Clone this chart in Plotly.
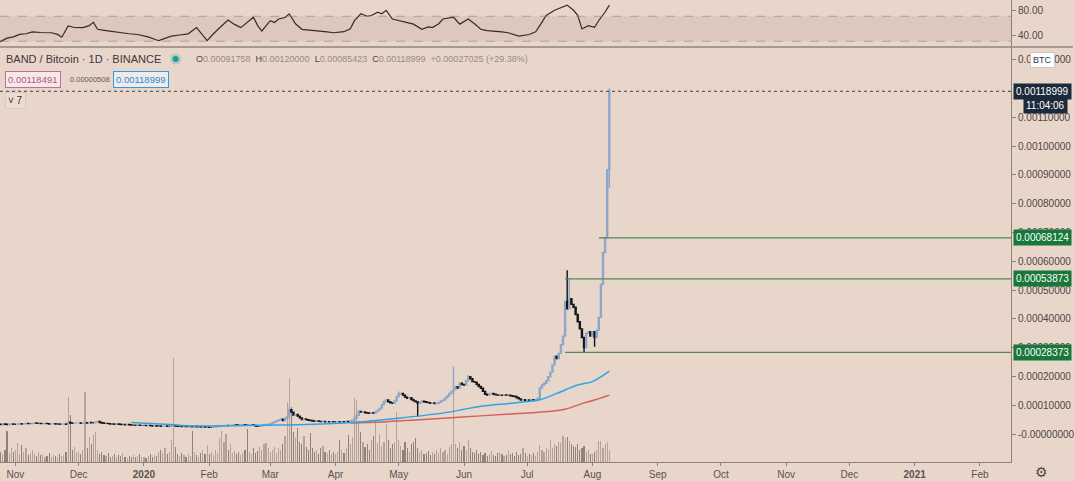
import pandas as pd
import plotly.graph_objects as go

# ---------------- data (prices in units of 0.00001 BTC) ----------------
START = "2019-10-24"
UNIT = 1e-5
first_open = 3.4

close_2019_10 = [3.4, 3.3, 3.5, 3.4, 3.3, 3.4, 3.5, 3.4]
close_2019_11 = [3.4, 3.5, 3.6, 3.5, 3.6, 3.7, 3.6, 3.6, 3.7, 3.8, 3.7, 3.7, 3.6, 3.6, 3.7,
                 3.6, 3.5, 3.6, 3.6, 3.5, 3.5, 3.4, 3.5, 3.5, 3.4, 4.1, 3.8, 3.7, 3.8, 3.8]
close_2019_12 = [3.8, 3.7, 3.8, 3.9, 3.8, 4.0, 3.9, 3.9, 4.2, 4.4, 4.0, 3.8, 3.7, 3.7, 3.6, 3.5,
                 3.5, 3.4, 3.5, 3.4, 3.3, 3.3, 3.2, 3.3, 3.2, 3.1, 3.1, 3.0, 3.1, 3.0, 3.0]
close_2020_01 = [3.0, 2.9, 3.0, 2.9, 2.8, 2.9, 2.8, 2.8, 2.7, 2.8, 2.8, 2.7, 2.7, 2.8, 3.0, 2.8,
                 2.7, 2.7, 2.6, 2.7, 2.6, 2.6, 2.6, 2.5, 2.6, 2.5, 2.5, 2.4, 2.5, 2.4, 2.4]
close_2020_02 = [2.3, 2.3, 2.4, 2.5, 2.6, 2.7, 2.8, 2.9, 3.0, 2.9, 3.0, 3.1, 3.2, 3.1, 3.0,
                 3.1, 3.2, 3.1, 3.0, 3.1, 3.2, 3.0, 2.8, 2.7, 2.8, 3.0, 3.2, 3.3, 3.4]
close_2020_03 = [3.6, 3.9, 4.3, 4.6, 4.9, 5.1, 4.7, 5.4, 6.0, 8.4, 7.6, 6.6, 6.8, 6.2, 5.6, 5.0,
                 5.2, 5.0, 4.8, 4.7, 4.5, 4.4, 4.5, 4.4, 4.3, 4.4, 4.2, 4.3, 4.2, 4.3, 4.2]
close_2020_04 = [4.2, 4.3, 4.2, 4.3, 4.2, 4.4, 4.3, 4.5, 4.8, 5.5, 6.5, 7.8, 7.6, 7.7, 7.4,
                 7.3, 7.2, 7.4, 7.3, 7.8, 8.3, 9.0, 10.2, 11.3, 11.8, 11.2, 10.8, 10.7, 11.5, 13.0]
close_2020_05 = [14.0, 14.1, 13.5, 12.8, 12.4, 12.6, 12.0, 11.5, 11.2, 10.7, 11.0, 11.4, 11.2, 11.0,
                 10.9, 10.7, 10.8, 10.6, 10.7, 11.0, 11.5, 11.8, 12.5, 13.2, 14.1, 14.8, 15.5, 16.4,
                 16.0, 17.6, 17.2]
close_2020_06 = [17.0, 18.5, 19.9, 19.2, 18.2, 18.0, 17.2, 16.5, 15.9, 14.8, 13.8, 13.5, 14.0, 14.1,
                 13.8, 13.6, 13.5, 13.5, 13.4, 13.6, 13.5, 13.5, 13.3, 13.1, 13.0, 12.6, 12.2, 11.8,
                 11.9, 11.7]
close_2020_07 = [11.8, 11.7, 11.9, 11.8, 12.0, 12.4, 16.0, 17.0, 17.6, 18.5, 19.9, 21.5, 24.0, 27.0,
                 26.2, 28.0, 31.0, 34.0, 46.0, 43.5, 47.0, 45.0, 44.0, 41.5, 39.0, 36.5, 33.5, 30.0,
                 35.0, 35.5, 34.0]
close_2020_08 = [35.5, 33.5, 36.0, 40.5, 52.0, 63.0, 68.124, 91.758, 118.999]

wick_high = {"2019-11-26": 4.4, "2020-03-10": 9.3, "2020-04-12": 8.3, "2020-05-01": 14.8,
             "2020-05-27": 23.4, "2020-06-03": 20.5, "2020-07-20": 56.9, "2020-07-21": 53.873,
             "2020-08-09": 120.0}
wick_low = {"2020-05-10": 6.0, "2020-05-27": 13.5, "2020-07-28": 28.373, "2020-08-02": 30.3,
            "2020-08-09": 85.423}

vol_2019_10 = [15, 10, 8, 12, 31, 9, 14, 10]
vol_2019_11 = [12, 19, 8, 17, 10, 14, 7, 9, 12, 8, 6, 10, 7, 8, 5, 6, 9, 5, 7, 6, 5, 8, 6, 7, 10,
               65, 47, 12, 15, 10]
vol_2019_12 = [10, 8, 12, 70, 14, 25, 18, 27, 30, 12, 8, 10, 7, 6, 9, 5, 6, 8, 5, 7, 6, 9, 5, 4, 6,
               5, 7, 5, 6, 8, 5]
vol_2020_01 = [5, 4, 6, 8, 5, 7, 6, 10, 12, 9, 14, 8, 10, 22, 104, 15, 8, 6, 9, 7, 5, 8, 6, 31, 10,
               7, 5, 9, 12, 8, 17]
vol_2020_02 = [8, 10, 7, 12, 9, 24, 31, 20, 28, 12, 18, 9, 11, 8, 10, 7, 9, 12, 33, 10, 8, 14, 9, 11,
               15, 12, 18, 19, 14]
vol_2020_03 = [10, 12, 15, 9, 14, 12, 18, 26, 60, 84, 55, 30, 24, 34, 20, 18, 26, 15, 12, 29, 14, 10,
               12, 8, 14, 16, 10, 9, 12, 8, 10]
vol_2020_04 = [8, 10, 22, 12, 9, 14, 27, 18, 25, 64, 62, 41, 30, 20, 15, 18, 12, 22, 26, 41, 19, 28,
               16, 20, 38, 22, 14, 18, 20, 50]
vol_2020_05 = [22, 16, 12, 20, 14, 10, 18, 20, 24, 14, 10, 12, 8, 9, 11, 7, 10, 8, 12, 9, 14, 10, 12,
               8, 15, 18, 92, 18, 14, 20, 12]
vol_2020_06 = [16, 12, 22, 14, 10, 9, 12, 8, 10, 7, 9, 6, 8, 11, 7, 6, 9, 10, 8, 6, 7, 12, 8, 9, 6,
               10, 7, 8, 14, 9]
vol_2020_07 = [6, 8, 7, 9, 6, 10, 17, 12, 10, 14, 12, 22, 14, 18, 16, 20, 19, 26, 24, 25, 21, 18, 16,
               15, 18, 12, 14, 16, 10, 12, 8]
vol_2020_08 = [8, 10, 12, 21, 21, 14, 18, 20, 12]

ma_blue_dates = ["2019-12-26", "2020-01-11", "2020-01-26", "2020-02-12", "2020-02-28", "2020-03-14",
                 "2020-04-07", "2020-05-01", "2020-05-25", "2020-06-01", "2020-06-09", "2020-06-25",
                 "2020-07-07", "2020-07-15", "2020-07-25", "2020-08-01", "2020-08-09"]
ma_blue_values = [4.0, 3.4, 2.8, 2.9, 3.05, 3.2, 3.9, 5.5, 7.6, 8.6, 9.6, 10.8, 11.9, 14.1, 17.0,
                  18.2, 21.8]
ma_red_dates = ["2020-04-08", "2020-04-23", "2020-05-09", "2020-06-02", "2020-06-25", "2020-07-11",
                "2020-07-19", "2020-07-28", "2020-08-02", "2020-08-09"]
ma_red_values = [3.8, 4.2, 4.9, 6.0, 7.0, 7.8, 8.6, 10.8, 11.8, 13.5]

rsi_dates = ["2019-10-24", "2019-10-26", "2019-10-28", "2019-10-31", "2019-11-03", "2019-11-06",
             "2019-11-09", "2019-11-13", "2019-11-18", "2019-11-21", "2019-11-23", "2019-11-26",
             "2019-11-29", "2019-12-03", "2019-12-06", "2019-12-08", "2019-12-10", "2019-12-14",
             "2019-12-18", "2019-12-21", "2019-12-25", "2019-12-29", "2020-01-03", "2020-01-08",
             "2020-01-11", "2020-01-14", "2020-01-18", "2020-01-22", "2020-01-26", "2020-01-28",
             "2020-01-31", "2020-02-03", "2020-02-05", "2020-02-08", "2020-02-10", "2020-02-13",
             "2020-02-16", "2020-02-19", "2020-02-22", "2020-02-24", "2020-02-26", "2020-03-01",
             "2020-03-03", "2020-03-05", "2020-03-08", "2020-03-10", "2020-03-13", "2020-03-16",
             "2020-03-20", "2020-03-25", "2020-03-28", "2020-03-31", "2020-04-05", "2020-04-08",
             "2020-04-10", "2020-04-13", "2020-04-16", "2020-04-18", "2020-04-21", "2020-04-23",
             "2020-04-25", "2020-04-28", "2020-05-01", "2020-05-04", "2020-05-08", "2020-05-12",
             "2020-05-15", "2020-05-17", "2020-05-20", "2020-05-22", "2020-05-27", "2020-05-30",
             "2020-06-03", "2020-06-06", "2020-06-09", "2020-06-12", "2020-06-16", "2020-06-19",
             "2020-06-22", "2020-06-27", "2020-07-02", "2020-07-05", "2020-07-07", "2020-07-10",
             "2020-07-14", "2020-07-18", "2020-07-20", "2020-07-23", "2020-07-25", "2020-07-27",
             "2020-07-30", "2020-08-02", "2020-08-04", "2020-08-07", "2020-08-09"]
rsi_values = [28, 31, 35, 37, 41, 42, 45, 44, 43.6, 41, 36.4, 54.6, 52, 51.8, 55, 60.2, 49.1, 47, 45,
              43.6, 42, 40.8, 37, 30.9, 34, 38.1, 40, 41.9, 51.8, 44, 30.9, 42, 49.1, 58, 64, 57,
              51.8, 60, 68.4, 55, 46.4, 62.9, 60, 65.6, 68, 73.9, 58, 49.1, 48, 46.4, 45, 43.6, 45.3,
              50, 62.9, 73.9, 70, 71.2, 76.6, 74, 79.5, 65.6, 62.9, 60, 57.4, 49.1, 53, 51.8, 58,
              65.6, 68.4, 57.4, 65.6, 58, 49.1, 47, 46.4, 45, 43.6, 38.1, 40.8, 45, 55, 71.4, 79.6,
              85, 87.8, 79.6, 71.4, 49.6, 55, 52.3, 63.2, 76.8, 87.8]

level_starts = ["2020-08-04", "2020-07-19", "2020-07-19"]
level_values = [0.00068124, 0.00053873, 0.00028373]
level_labels = ["0.00068124", "0.00053873", "0.00028373"]
last_price = 0.00118999
last_price_label = "0.00118999"

# 0.0012 tick label is fully covered by the last-price tag in the reference
price_tick_values = [0.0000, 0.0001, 0.0002, 0.0003, 0.0004, 0.0005, 0.0006, 0.0007, 0.0008,
                     0.0009, 0.0010, 0.0011, 0.0013]
price_tick_labels = ["-0.00000000", "0.00010000", "0.00020000", "0.00030000", "0.00040000",
                     "0.00050000", "0.00060000", "0.00070000", "0.00080000", "0.00090000",
                     "0.00100000", "0.00110000", "0.00130000"]
rsi_tick_values = [40, 80]
rsi_tick_labels = ["40.00", "80.00"]
time_tick_dates = ["2019-11-01", "2019-12-01", "2020-01-01", "2020-02-01", "2020-03-01",
                   "2020-04-01", "2020-05-01", "2020-06-01", "2020-07-01", "2020-08-01",
                   "2020-09-01", "2020-10-01", "2020-11-01", "2020-12-01", "2021-01-01",
                   "2021-02-01"]
time_tick_labels = ["Nov", "Dec", "<b>2020</b>", "Feb", "Mar", "Apr", "May", "Jun", "Jul", "Aug",
                    "Sep", "Oct", "Nov", "Dec", "<b>2021</b>", "Feb"]

# ---------------- derived series ----------------
close = (close_2019_10 + close_2019_11 + close_2019_12 + close_2020_01 + close_2020_02 +
         close_2020_03 + close_2020_04 + close_2020_05 + close_2020_06 + close_2020_07 +
         close_2020_08)
volume = (vol_2019_10 + vol_2019_11 + vol_2019_12 + vol_2020_01 + vol_2020_02 + vol_2020_03 +
          vol_2020_04 + vol_2020_05 + vol_2020_06 + vol_2020_07 + vol_2020_08)
dates = pd.date_range(START, periods=len(close), freq="D")
keys = [d.strftime("%Y-%m-%d") for d in dates]
c = [v * UNIT for v in close]
o = [first_open * UNIT] + c[:-1]
h = [wick_high.get(k, max(a, b) / UNIT) * UNIT for k, a, b in zip(keys, o, c)]
l = [wick_low.get(k, min(a, b) / UNIT) * UNIT for k, a, b in zip(keys, o, c)]
vol_colors = ["rgba(150,128,115,0.6)" if cc >= oo else "rgba(95,85,80,0.65)" for oo, cc in zip(o, c)]

BG = "#e9d6cb"
AXIS = "#8c827c"
TXT = "#4e4646"
FONT = "Liberation Sans"
W_PLOT = 1013.0
H_PLOT = 462.0


def px(xp):
    return xp / W_PLOT


def py(yp):
    return (H_PLOT - yp) / H_PLOT


fig = go.Figure()
fig.add_trace(go.Bar(x=dates, y=volume, marker_color=vol_colors, marker_line_width=0,
                     width=0.55 * 86400000, xaxis="x", yaxis="y", hoverinfo="skip"))
fig.add_trace(go.Candlestick(
    x=dates, open=o, high=h, low=l, close=c, xaxis="x", yaxis="y3", whiskerwidth=0,
    increasing=dict(line=dict(color="#8ea6c8", width=1.4), fillcolor="#9bb3d4"),
    decreasing=dict(line=dict(color="#151515", width=1.4), fillcolor="#151515"),
    hoverinfo="skip"))
fig.add_trace(go.Scatter(x=ma_red_dates, y=[v * UNIT for v in ma_red_values], mode="lines",
                         line=dict(color="#d4605a", width=1.5, shape="spline"),
                         xaxis="x", yaxis="y3", hoverinfo="skip"))
fig.add_trace(go.Scatter(x=ma_blue_dates, y=[v * UNIT for v in ma_blue_values], mode="lines",
                         line=dict(color="#2ea3e3", width=1.5, shape="spline"),
                         xaxis="x", yaxis="y3", hoverinfo="skip"))
fig.add_trace(go.Scatter(x=rsi_dates, y=rsi_values, mode="lines",
                         line=dict(color="#3a2a22", width=1.2),
                         xaxis="x", yaxis="y2", hoverinfo="skip"))

shapes = []
# RSI band
shapes.append(dict(type="rect", xref="paper", yref="y2", x0=0, x1=1, y0=30, y1=70,
                   fillcolor="rgba(150,120,115,0.15)", line=dict(width=0), layer="below"))
for lv in (30, 70):
    shapes.append(dict(type="line", xref="paper", yref="y2", x0=0, x1=1, y0=lv, y1=lv,
                       line=dict(color="rgba(140,128,125,0.6)", width=1, dash="dash")))
# pane separator
shapes.append(dict(type="line", xref="paper", yref="paper", x0=0, x1=1075 / W_PLOT,
                   y0=py(47), y1=py(47), line=dict(color="#8e8580", width=1.5)))
# last price dotted line
shapes.append(dict(type="line", xref="paper", yref="y3", x0=0, x1=1, y0=last_price, y1=last_price,
                   line=dict(color="#3c3c3c", width=1, dash="dot")))
# horizontal levels
for s, v in zip(level_starts, level_values):
    shapes.append(dict(type="line", xref="x", yref="y3", x0=s, x1="2021-02-15 18:00", y0=v, y1=v,
                       line=dict(color="#4f8a50", width=1.2)))
# teal status dot
shapes.append(dict(type="circle", xref="paper", yref="paper", x0=px(170.5), x1=px(181.5),
                   y0=py(64.5), y1=py(53.5), fillcolor="rgba(38,166,154,0.25)", line=dict(width=0)))
shapes.append(dict(type="circle", xref="paper", yref="paper", x0=px(173), x1=px(179),
                   y0=py(62), y1=py(56), fillcolor="#1f9e8f", line=dict(width=0)))

ann = []
ann.append(dict(xref="paper", yref="paper", x=px(4), y=py(59), xanchor="left", yanchor="middle",
                text="BAND / Bitcoin · 1D · BINANCE", showarrow=False,
                font=dict(family=FONT, size=11, color="#3e3636")))
dark = "<span style='color:#4a4242'>%s</span>"
ohlc = (dark % "O" + "0.00091758  " + dark % "H" + "0.00120000  " + dark % "L" + "0.00085423  " +
        dark % "C" + "0.00118999  +0.00027025 (+29.38%)")
ann.append(dict(xref="paper", yref="paper", x=px(194), y=py(59), xanchor="left", yanchor="middle",
                text=ohlc, showarrow=False, font=dict(family=FONT, size=9, color="#948b87")))
ann.append(dict(xref="paper", yref="paper", x=px(5), y=py(79), xanchor="left", yanchor="middle",
                text="0.00118491", showarrow=False, bgcolor="#f3e9e5", bordercolor="#c9679f",
                borderwidth=1, borderpad=2, font=dict(family=FONT, size=9.5, color="#b85590")))
ann.append(dict(xref="paper", yref="paper", x=px(68), y=py(79), xanchor="left", yanchor="middle",
                text="0.00000508", showarrow=False, font=dict(family=FONT, size=7.5, color="#5e5656")))
ann.append(dict(xref="paper", yref="paper", x=px(113), y=py(79), xanchor="left", yanchor="middle",
                text="0.00118999", showarrow=False, bgcolor="#f3e9e5", bordercolor="#2a9af0",
                borderwidth=1, borderpad=2, font=dict(family=FONT, size=9.5, color="#1f8ee6")))
ann.append(dict(xref="paper", yref="paper", x=px(5), y=py(100), xanchor="left", yanchor="middle",
                text="˅ 7", showarrow=False, bgcolor="#ecdcd2", bordercolor="#d9c9c0",
                borderwidth=1, borderpad=2, font=dict(family=FONT, size=10, color="#3e3636")))
# right side labels
ann.append(dict(xref="paper", yref="paper", x=px(1045), y=py(60), xanchor="center", yanchor="middle",
                text="BTC", showarrow=False, bgcolor="#ffffff", bordercolor="#cfc6c2", borderwidth=1,
                borderpad=2, font=dict(family=FONT, size=9, color="#2f3a4c")))
ann.append(dict(xref="paper", yref="y3", x=px(1015), y=last_price, xanchor="left", yanchor="middle",
                text=last_price_label, showarrow=False, bgcolor="#1d2a3b", borderpad=2,
                font=dict(family=FONT, size=10, color="#ffffff")))
ann.append(dict(xref="paper", yref="paper", x=px(1070), y=py(105.5), xanchor="right", yanchor="middle",
                text="11:04:06", showarrow=False, bgcolor="#1d2a3b", borderpad=2,
                font=dict(family=FONT, size=10, color="#ffffff")))
for v, t in zip(level_values, level_labels):
    ann.append(dict(xref="paper", yref="y3", x=px(1015), y=v, xanchor="left", yanchor="middle",
                    text=t, showarrow=False, bgcolor="#18773a", borderpad=2,
                    font=dict(family=FONT, size=10, color="#ffffff")))
ann.append(dict(xref="paper", yref="paper", x=px(1044), y=py(472), xanchor="center", yanchor="middle",
                text="⚙", showarrow=False, font=dict(family="DejaVu Sans", size=14, color="#4a4444")))

fig.update_layout(
    width=1075, height=481,
    margin=dict(l=0, r=62, t=0, b=19, pad=0),
    paper_bgcolor=BG, plot_bgcolor=BG,
    showlegend=False, hovermode=False, bargap=0,
    font=dict(family=FONT, size=10, color=TXT),
    xaxis=dict(type="date", range=["2019-10-24 15:36", "2021-02-15 18:00"], anchor="y",
               tickvals=time_tick_dates, ticktext=time_tick_labels, ticks="outside", ticklen=3,
               tickcolor=AXIS, showline=True, linecolor=AXIS, linewidth=1, showgrid=False,
               zeroline=False, rangeslider=dict(visible=False),
               tickfont=dict(family=FONT, size=10, color="#5a5252")),
    yaxis=dict(domain=[0, py(48)], range=[0, 414], showticklabels=False, showgrid=False,
               zeroline=False, showline=False, ticks=""),
    yaxis3=dict(overlaying="y", anchor="x", side="right",
                range=[-0.0000972, 0.0013403], tickvals=price_tick_values,
                ticktext=price_tick_labels, ticks="outside", ticklen=4, tickcolor=AXIS,
                showline=True, linecolor=AXIS, linewidth=1, showgrid=False, zeroline=False,
                tickfont=dict(family=FONT, size=10, color="#4e4646")),
    yaxis2=dict(domain=[py(47), 1], anchor="x", side="right", range=[20.8, 96],
                tickvals=rsi_tick_values, ticktext=rsi_tick_labels, ticks="outside", ticklen=4,
                tickcolor=AXIS, showline=True, linecolor=AXIS, linewidth=1, showgrid=False,
                zeroline=False, tickfont=dict(family=FONT, size=10, color="#4e4646")),
    shapes=shapes,
    annotations=ann,
)

fig.write_html("out.html", config={"displayModeBar": False},
               post_script="document.body.style.margin='0';document.body.style.padding='0';"
                           "document.body.style.overflow='hidden';")
